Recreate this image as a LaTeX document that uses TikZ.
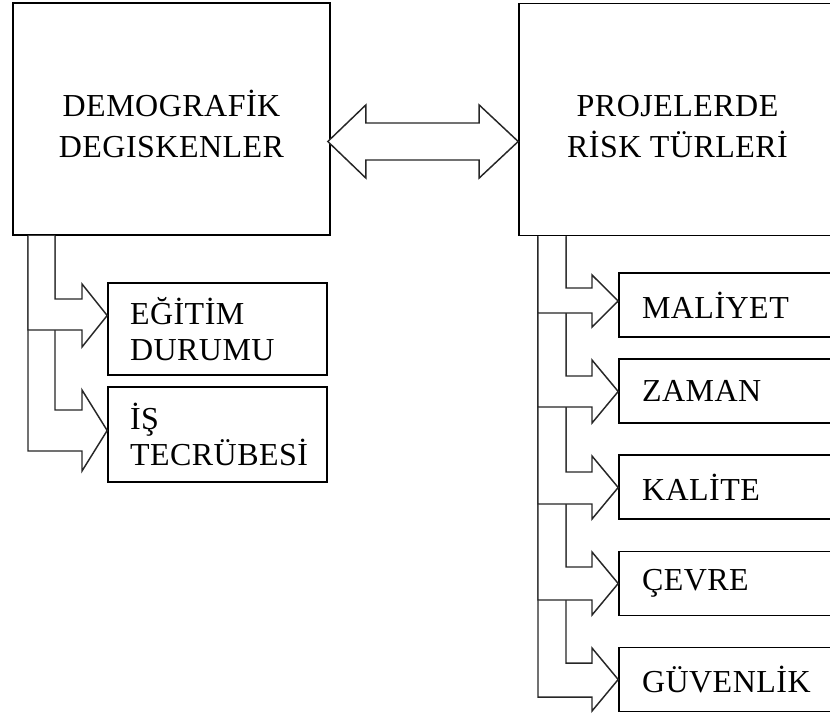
\documentclass[tikz,border=0pt]{standalone}
\usepackage{fontspec}
\setmainfont{Liberation Serif}
\newfontfamily\lblfont{Liberation Serif}[LetterSpace=1.5]
\usetikzlibrary{calc}

% bent block arrow: #1 source node, #2 target node, #3 outer x, #4 inner x,
% #5 band top y, #6 band bottom y, #7 head top y, #8 head bottom y, #9 neck x
\newcommand\bentarr[9]{%
  \filldraw[blockarrow] (#4,0 |- #1.south) -- (#4,#5) -- (#9,#5) -- (#9,#7)
    -- (#2.west |- 0,{(#7+#8)/2}) -- (#9,#8) -- (#9,#6) -- (#3,#6)
    -- (#3,0 |- #1.south);}
% strut that sets the first line of the main box captions a little lower
\newcommand\topstrut{\rule{0pt}{26.5pt}}

\begin{document}
\begin{tikzpicture}[x=0.75pt,y=-0.75pt,
  every node/.style={font=\lblfont\fontsize{24}{27}\selectfont},
  bigbox/.style={draw=black,line width=1.2pt,minimum width=237.75pt,
    minimum height=174pt,align=center,
    font=\lblfont\fontsize{24}{30.75}\selectfont},
  leftbox/.style={draw=black,line width=1.2pt,minimum width=164.25pt,
    inner xsep=16.5pt,text width=131.25pt,align=left},
  rightbox/.style={draw=black,line width=1.2pt,minimum width=165.75pt,
    minimum height=48pt,inner xsep=17.25pt,text width=131.25pt,align=left},
  blockarrow/.style={draw=black!85,fill=white,line width=1.1pt,line join=miter}]
\useasboundingbox (0,0) rectangle (830,715);
\clip (0,0) rectangle (830,715);

% main boxes
\node[bigbox] (demo) at (171.5,119) {\topstrut DEMOGRAF\.{I}K\\DEGISKENLER};
\node[bigbox] (risk) at (677.5,119.5) {\topstrut PROJELERDE\\R\.{I}SK T\"{U}RLER\.{I}};

% sub boxes on the left
\node[leftbox,minimum height=69pt] (edu) at (217.5,329) {E\u{G}\.{I}T\.{I}M\\DURUMU};
\node[leftbox,minimum height=71.25pt] (exp) at (217.5,434.5) {\.{I}\c{S}\\TECR\"{U}BES\.{I}};

% sub boxes on the right
\node[rightbox] (cost) at (729.5,305) {MAL\.{I}YET};
\node[rightbox] (time) at (729.5,391) {ZAMAN};
\node[rightbox] (qual) at (729.5,487) {KAL\.{I}TE};
\node[rightbox] (env)  at (729.5,583.5) {\c{C}EVRE};
\node[rightbox] (safe) at (729.5,679.5) {G\"{U}VENL\.{I}K};

% double block arrow between the main boxes
\coordinate (lt) at ($(demo.east |- 0,141.5)+(-3,0)$);
\coordinate (rt) at (risk.west |- 0,141.5);
\filldraw[blockarrow] (lt) -- ($(lt)+(38,-36.5)$) -- ($(lt)+(38,-18.5)$)
  -- ($(rt)+(-39,-18.5)$) -- ($(rt)+(-39,-36.5)$) -- (rt)
  -- ($(rt)+(-39,36.5)$) -- ($(rt)+(-39,18.5)$) -- ($(lt)+(38,18.5)$)
  -- ($(lt)+(38,36.5)$) -- cycle;

% left branch (lower arrow first, upper one laid over it)
\bentarr{demo}{exp}{28}{55}{410}{451}{390}{471}{82}
\bentarr{demo}{edu}{28}{55}{299}{330}{284}{347}{82}

% right branch
\bentarr{risk}{safe}{538}{566}{663}{697}{648}{711}{592}
\bentarr{risk}{env}{538}{566}{567}{600}{552}{615}{592}
\bentarr{risk}{qual}{538}{566}{472}{504}{456}{519}{592}
\bentarr{risk}{time}{538}{566}{376}{407}{360}{423}{592}
\bentarr{risk}{cost}{538}{566}{288}{313}{275}{327}{592}
\end{tikzpicture}
\end{document}
